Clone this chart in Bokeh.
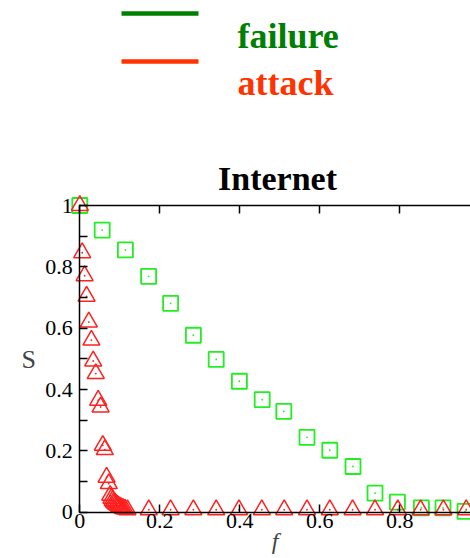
from bokeh.plotting import figure
from bokeh.layouts import column
from bokeh.models import Range1d, LinearAxis, FixedTicker, CustomJSTickFormatter, ColumnDataSource
from bokeh.core.properties import value
from bokeh.embed import file_html
from bokeh.resources import INLINE

# ---------------- data ----------------
failure_f = [0.0, 0.056, 0.114, 0.172, 0.227, 0.284, 0.341, 0.399, 0.456, 0.510,
             0.568, 0.625, 0.683, 0.738, 0.794, 0.854, 0.908, 0.963]
failure_S = [1.0, 0.920, 0.855, 0.769, 0.681, 0.577, 0.498, 0.427, 0.367, 0.329,
             0.244, 0.202, 0.149, 0.062, 0.033, 0.014, 0.014, 0.003]

attack_f = [0.0, 0.006, 0.012, 0.017, 0.0225, 0.029, 0.0335, 0.040, 0.046, 0.052,
            0.0575, 0.0625, 0.067, 0.0725, 0.076, 0.079, 0.082, 0.085, 0.088, 0.091,
            0.094, 0.097, 0.100, 0.104, 0.108, 0.113, 0.119, 0.1725, 0.227, 0.284,
            0.341, 0.398, 0.455, 0.511, 0.568, 0.625, 0.682, 0.738, 0.795, 0.852,
            0.909, 0.966]
attack_S = [1.0, 0.846, 0.771, 0.704, 0.620, 0.561, 0.493, 0.452, 0.365, 0.343,
            0.218, 0.204, 0.114, 0.093, 0.055, 0.045, 0.038, 0.033, 0.030, 0.026,
            0.023, 0.020, 0.017, 0.015, 0.012, 0.010, 0.008, 0.008, 0.008, 0.008,
            0.008, 0.008, 0.008, 0.008, 0.008, 0.008, 0.008, 0.008, 0.008, 0.008,
            0.008, 0.008]

legend_names = ["failure", "attack"]
legend_colors = ["#008000", "#FF3300"]
title_text = "Internet"

x_ticks = [0, 0.2, 0.4, 0.6, 0.8, 1.0]
y_ticks = [0, 0.2, 0.4, 0.6, 0.8, 1.0]
y_minor = [0.1, 0.3, 0.5, 0.7, 0.9]

SERIF = "Liberation Serif"
W = 470

# ---------------- header (legend) ----------------
HEAD_H = 120
head = figure(width=W, height=HEAD_H, x_range=Range1d(0, W), y_range=Range1d(HEAD_H, 0),
              toolbar_location=None, output_backend="svg", min_border=0,
              x_axis_type=None, y_axis_type=None)
head.outline_line_color = None
head.grid.visible = False

leg = ColumnDataSource(dict(name=legend_names, color=legend_colors,
                            ly=[13, 61], ty=[35, 82]))
head.segment(x0=121, x1=198, y0="ly", y1="ly", line_color="color", line_width=4.5, source=leg)
head.text(x=237, y="ty", text="name", text_color="color", source=leg,
          text_font=value(SERIF), text_font_style="bold", text_font_size="36px",
          text_baseline="alphabetic", text_align="left")

# ---------------- main plot ----------------
MAIN_H = 558 - HEAD_H
x0_px, x_scale = 79.3, 400.0               # x=0 position within figure, px per unit
y0_px, y_scale = 511.7 - HEAD_H, 306.7     # y=0 position from figure top, px per unit
x_range = Range1d(-x0_px / x_scale, (W - x0_px) / x_scale)
y_range = Range1d(-(MAIN_H - y0_px) / y_scale, y0_px / y_scale)

def px_x(px):
    return (px - x0_px) / x_scale

def px_y(py_page):
    return (y0_px - (py_page - HEAD_H)) / y_scale

p = figure(width=W, height=MAIN_H, x_range=x_range, y_range=y_range,
           toolbar_location=None, output_backend="svg", min_border=0,
           x_axis_type=None, y_axis_type=None)
p.outline_line_color = None
p.grid.visible = False

fmt = CustomJSTickFormatter(code="return String(Math.round(tick*10)/10);")
blank = CustomJSTickFormatter(code="return '';")

def style_axis(ax):
    ax.axis_line_color = "black"
    ax.axis_line_width = 1.5
    ax.major_tick_line_color = "black"
    ax.major_tick_line_width = 1.5
    ax.minor_tick_line_color = "black"
    ax.minor_tick_line_width = 1.5
    ax.major_tick_in = 8
    ax.major_tick_out = 0
    ax.minor_tick_in = 8
    ax.minor_tick_out = 0
    ax.major_label_text_font = SERIF
    ax.major_label_text_font_size = "22px"
    ax.major_label_text_color = "black"

xaxis = LinearAxis(fixed_location=0, bounds=(0, 1),
                   ticker=FixedTicker(ticks=x_ticks, minor_ticks=[]), formatter=fmt,
                   axis_label="f")
style_axis(xaxis)
xaxis.major_label_standoff = 2
xaxis.axis_label_text_font = SERIF
xaxis.axis_label_text_font_style = "italic"
xaxis.axis_label_text_font_size = "24px"
xaxis.axis_label_standoff = -4
p.add_layout(xaxis, "below")

top = LinearAxis(fixed_location=1, bounds=(0, 1),
                 ticker=FixedTicker(ticks=x_ticks, minor_ticks=[]), formatter=blank)
style_axis(top)
p.add_layout(top, "above")

yaxis = LinearAxis(fixed_location=0, bounds=(0, 1),
                   ticker=FixedTicker(ticks=y_ticks, minor_ticks=y_minor), formatter=fmt,
                   axis_label="S")
style_axis(yaxis)
yaxis.major_label_standoff = 7
yaxis.axis_label_orientation = "horizontal"
yaxis.axis_label_text_font = SERIF
yaxis.axis_label_text_font_style = "normal"
yaxis.axis_label_text_font_size = "26px"
yaxis.axis_label_standoff = 6
p.add_layout(yaxis, "left")

# title
p.text(x=[px_x(277)], y=[px_y(178)], text=[title_text], text_color="black",
       text_font=value(SERIF), text_font_style="bold", text_font_size="34px",
       text_baseline="alphabetic", text_align="center")

p.scatter(failure_f, failure_S, marker="square", size=15, fill_color=None,
          line_color="#22EE22", line_width=1.8)
p.scatter(failure_f, failure_S, marker="circle", size=1.8, fill_color="#22EE22",
          line_color=None)
p.scatter(attack_f, attack_S, marker="triangle", size=17, fill_color=None,
          line_color="#FF2020", line_width=1.5)
p.scatter(attack_f, attack_S, marker="circle", size=1.8, fill_color="#FF2020",
          line_color=None)

layout = column(head, p, spacing=0)
open("out.html", "w").write(file_html(layout, INLINE))
